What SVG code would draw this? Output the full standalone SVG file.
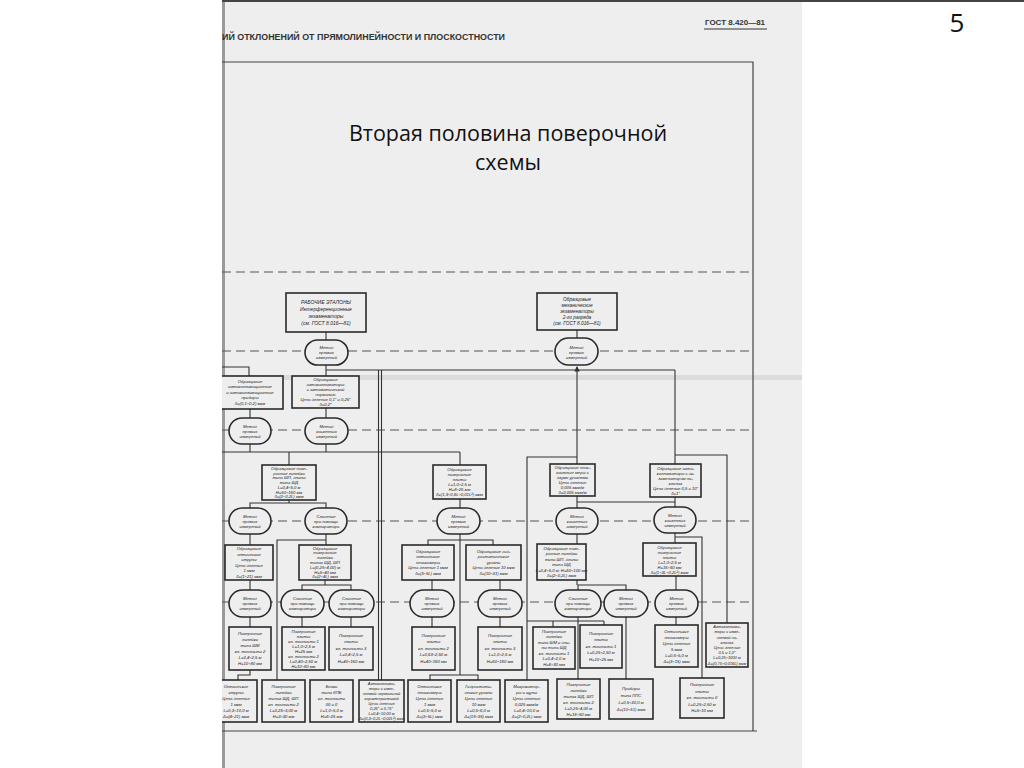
<svg xmlns="http://www.w3.org/2000/svg" width="1024" height="768" viewBox="0 0 1024 768">
<defs>
<style>
.pg{fill:#eeeeee}
.bx{fill:#eeeeee;stroke:#2a2a2a;stroke-width:1.6}
.ov{fill:#eeeeee;stroke:#2a2a2a;stroke-width:1.6}
.t{font-family:"Liberation Sans",Arial,sans-serif;font-style:italic;font-size:4.2px;fill:#222;text-anchor:middle}
.c{fill:none;stroke:#333;stroke-width:1.1}
.d{fill:none;stroke:#555;stroke-width:1.1;stroke-dasharray:9 5}
.fr{fill:none;stroke:#444;stroke-width:1.2}
</style>
<clipPath id="pageclip"><rect x="222" y="0" width="580" height="768"/></clipPath>
<marker id="ar" viewBox="0 0 6 6" refX="5" refY="3" markerWidth="5" markerHeight="5" orient="auto"><path d="M0,0 L6,3 L0,6 z" fill="#333"/></marker>
</defs>
<rect width="1024" height="768" fill="#ffffff"/>
<g id="page">
<rect class="pg" x="222" y="0" width="580" height="768"/>
<rect x="222" y="0" width="3" height="768" fill="#9a9a9a"/>
<rect x="222" y="375" width="580" height="5" fill="#cfcfcf" opacity="0.6"/>
<line x1="222" y1="1" x2="1024" y2="1" stroke="#444" stroke-width="2"/>
<text x="222" y="40" font-family="Liberation Sans Narrow,Liberation Sans,sans-serif" font-weight="bold" font-size="8.5" fill="#333" textLength="283" lengthAdjust="spacingAndGlyphs">ИЙ ОТКЛОНЕНИЙ ОТ ПРЯМОЛИНЕЙНОСТИ И ПЛОСКОСТНОСТИ</text>
<text x="705" y="25" font-family="Liberation Sans,sans-serif" font-weight="bold" font-size="7.5" fill="#333" textLength="60" lengthAdjust="spacingAndGlyphs">ГОСТ 8.420—81</text>
<line x1="704" y1="29" x2="767" y2="29" stroke="#333" stroke-width="1.2"/>
<polyline class="fr" points="222,62 753,62 753,731"/>
<line class="fr" x1="222" y1="731" x2="757" y2="731"/>
<text x="508" y="141" font-family="Open Sans,Liberation Sans,sans-serif" font-size="21.5" fill="#111" text-anchor="middle">Вторая половина поверочной</text>
<text x="508" y="170" font-family="Open Sans,Liberation Sans,sans-serif" font-size="21.5" fill="#111" text-anchor="middle">схемы</text>
<line class="d" x1="222" y1="272" x2="753" y2="272"/>
<line class="d" x1="222" y1="351" x2="753" y2="351"/>
<line class="d" x1="222" y1="430" x2="753" y2="430"/>
<line class="d" x1="222" y1="521" x2="753" y2="521"/>
<line class="d" x1="222" y1="602" x2="753" y2="602"/>
</g>
<text x="957" y="32" font-family="Open Sans,Liberation Sans,sans-serif" font-size="26" fill="#111" text-anchor="middle">5</text>
<g id="connectors" clip-path="url(#pageclip)">
<line class="c" x1="326" y1="332" x2="326" y2="340"/>
<line class="c" x1="577" y1="330" x2="577" y2="338"/>
<line class="c" x1="326" y1="365" x2="326" y2="376"/>
<line class="c" x1="326" y1="370" x2="675" y2="370"/>
<polyline class="c" points="222,367 249,367 249,376"/>
<line class="c" x1="378.5" y1="370" x2="378.5" y2="680"/>
<line class="c" x1="381.5" y1="370" x2="381.5" y2="680"/>
<line class="c" x1="577" y1="370" x2="577" y2="367" marker-end="url(#ar)"/>
<line class="c" x1="577" y1="370" x2="577" y2="464"/>
<polyline class="c" points="577,457 527,457 527,680"/>
<line class="c" x1="675" y1="370" x2="675" y2="464"/>
<polyline class="c" points="675,455 727,455 727,623"/>
<line class="c" x1="250" y1="409" x2="250" y2="418"/>
<line class="c" x1="326" y1="408" x2="326" y2="418"/>
<line class="c" x1="250" y1="444" x2="250" y2="452"/>
<line class="c" x1="326" y1="444" x2="326" y2="452"/>
<line class="c" x1="222" y1="452" x2="460" y2="452"/>
<line class="c" x1="289" y1="452" x2="289" y2="465"/>
<line class="c" x1="460" y1="452" x2="460" y2="465"/>
<polyline class="c" points="289,500 289,503"/>
<polyline class="c" points="250,508 250,503 326,503 326,508"/>
<line class="c" x1="250" y1="534" x2="250" y2="545"/>
<line class="c" x1="326" y1="534" x2="326" y2="545"/>
<polyline class="c" points="326,540 277,540 277,680"/>
<line class="c" x1="325" y1="580" x2="325" y2="585"/>
<polyline class="c" points="302,590 302,585 351,585 351,590"/>
<line class="c" x1="250" y1="580" x2="250" y2="590"/>
<line class="c" x1="250" y1="617" x2="250" y2="627"/>
<line class="c" x1="302" y1="617" x2="302" y2="627"/>
<line class="c" x1="351" y1="617" x2="351" y2="627"/>
<polyline class="c" points="250,670 250,675 238,675 238,680"/>
<line class="c" x1="460" y1="499" x2="460" y2="508"/>
<line class="c" x1="460" y1="534" x2="460" y2="675"/>
<polyline class="c" points="428,545 428,540 493,540 493,545"/>
<line class="c" x1="432" y1="580" x2="432" y2="590"/>
<line class="c" x1="500" y1="580" x2="500" y2="590"/>
<line class="c" x1="432" y1="617" x2="432" y2="627"/>
<line class="c" x1="500" y1="617" x2="500" y2="627"/>
<polyline class="c" points="430,680 430,675 478,675 478,680"/>
<line class="c" x1="577" y1="496" x2="577" y2="508"/>
<line class="c" x1="675" y1="497" x2="675" y2="507"/>
<line class="c" x1="577" y1="502" x2="675" y2="502"/>
<line class="c" x1="577" y1="534" x2="577" y2="544"/>
<line class="c" x1="577" y1="580" x2="577" y2="585"/>
<polyline class="c" points="578,590 578,585 626,585 626,590"/>
<line class="c" x1="578" y1="617" x2="578" y2="679"/>
<polyline class="c" points="527,621 604,621"/>
<line class="c" x1="553" y1="621" x2="553" y2="627"/>
<line class="c" x1="604" y1="621" x2="604" y2="625"/>
<line class="c" x1="626" y1="617" x2="626" y2="679"/>
<line class="c" x1="675" y1="533" x2="675" y2="543"/>
<polyline class="c" points="675,537 702,537 702,678"/>
<line class="c" x1="676" y1="576" x2="676" y2="590"/>
<line class="c" x1="676" y1="617" x2="676" y2="625"/>
</g>
<g id="T1"><rect class="bx" x="286" y="293" width="80" height="39"/><text class="t" x="326" y="303.5" style="font-size:5px"><tspan x="326">РАБОЧИЕ  ЭТАЛОНЫ</tspan><tspan x="326" dy="7">Интерференционные</tspan><tspan x="326" dy="7">экзаменаторы</tspan><tspan x="326" dy="7">(см. ГОСТ 8.016—81)</tspan></text></g>
<g id="T2"><rect class="bx" x="537" y="293" width="80" height="37"/><text class="t" x="577" y="301" style="font-size:4.8px"><tspan x="577">Образцовые</tspan><tspan x="577" dy="6">механические</tspan><tspan x="577" dy="6">экзаменаторы</tspan><tspan x="577" dy="6">2-го разряда</tspan><tspan x="577" dy="6">(см. ГОСТ 8.016—81)</tspan></text></g>
<g id="O1"><rect class="ov" x="305" y="340" width="43" height="25" rx="12.5"/><text class="t" x="326.5" y="349"><tspan x="326.5">Метод</tspan><tspan x="326.5" dy="5">прямых</tspan><tspan x="326.5" dy="5">измерений</tspan></text></g>
<g id="O2"><rect class="ov" x="555" y="338" width="43" height="27" rx="13.5"/><text class="t" x="576.5" y="349"><tspan x="576.5">Метод</tspan><tspan x="576.5" dy="5">прямых</tspan><tspan x="576.5" dy="5">измерений</tspan></text></g>
<g id="B1" clip-path="url(#pageclip)"><rect class="bx" x="212" y="376" width="71" height="33"/><text class="t" x="250" y="382.5"><tspan x="250">Образцовые</tspan><tspan x="250" dy="5.5">автоколлимационные</tspan><tspan x="250" dy="5.5">и автоколлимационные</tspan><tspan x="250" dy="5.5">приборы</tspan><tspan x="250" dy="5.5">δ=(0,1÷0,2) мкм</tspan></text></g>
<g id="B2"><rect class="bx" x="292" y="376" width="67" height="32"/><text class="t" x="325.5" y="381"><tspan x="325.5">Образцовые</tspan><tspan x="325.5" dy="5">автоколлиматоры</tspan><tspan x="325.5" dy="5">с автоматической</tspan><tspan x="325.5" dy="5">нормалью</tspan><tspan x="325.5" dy="5">Цена деления 0,1″ и 0,25″</tspan><tspan x="325.5" dy="5">δ=0,2″</tspan></text></g>
<g id="O3"><rect class="ov" x="229" y="418" width="42" height="26" rx="13"/><text class="t" x="250" y="427.5"><tspan x="250">Метод</tspan><tspan x="250" dy="5">прямых</tspan><tspan x="250" dy="5">измерений</tspan></text></g>
<g id="O4"><rect class="ov" x="305" y="418" width="43" height="26" rx="13"/><text class="t" x="326.5" y="427.5"><tspan x="326.5">Метод</tspan><tspan x="326.5" dy="5">косвенных</tspan><tspan x="326.5" dy="5">измерений</tspan></text></g>
<g id="C1"><rect class="bx" x="262" y="465" width="54" height="35"/><text class="t" x="289" y="470"><tspan x="289">Образцовые пове-</tspan><tspan x="289" dy="4.7">рочные линейки</tspan><tspan x="289" dy="4.7">типа ШП, длины</tspan><tspan x="289" dy="4.7">типа ШД</tspan><tspan x="289" dy="4.7">L=0,4÷5,0 м</tspan><tspan x="289" dy="4.7">H=50÷160 мм</tspan><tspan x="289" dy="4.7">δ=(2÷0,2L) мкм</tspan></text></g>
<g id="C2"><rect class="bx" x="433" y="465" width="53" height="34"/><text class="t" x="459.5" y="471"><tspan x="459.5">Образцовые</tspan><tspan x="459.5" dy="5">поверочные</tspan><tspan x="459.5" dy="5">плиты</tspan><tspan x="459.5" dy="5">L=1,0÷2,5 м</tspan><tspan x="459.5" dy="5">H=8÷25 мм</tspan><tspan x="459.5" dy="5">δ=(1,9÷0,8L÷0,01L²) мкм</tspan></text></g>
<g id="C3"><rect class="bx" x="550" y="464" width="45" height="32"/><text class="t" x="572.5" y="469"><tspan x="572.5">Образцовые плос-</tspan><tspan x="572.5" dy="5">костные меры с</tspan><tspan x="572.5" dy="5">двумя уровнями</tspan><tspan x="572.5" dy="5">Цена деления</tspan><tspan x="572.5" dy="5">0,005 мкм/м</tspan><tspan x="572.5" dy="5">δ=0,005 мкм/м</tspan></text></g>
<g id="C4"><rect class="bx" x="650" y="464" width="51" height="33"/><text class="t" x="675.5" y="469.5"><tspan x="675.5">Образцовые авто-</tspan><tspan x="675.5" dy="5">коллиматоры с эк-</tspan><tspan x="675.5" dy="5">заменатором на-</tspan><tspan x="675.5" dy="5">клонов</tspan><tspan x="675.5" dy="5">Цена деления 0,5 и 10″</tspan><tspan x="675.5" dy="5">δ=1″</tspan></text></g>
<g id="D1"><rect class="ov" x="229" y="508" width="42" height="26" rx="13"/><text class="t" x="250" y="517.5"><tspan x="250">Метод</tspan><tspan x="250" dy="5">прямых</tspan><tspan x="250" dy="5">измерений</tspan></text></g>
<g id="D2"><rect class="ov" x="305" y="508" width="42" height="26" rx="13"/><text class="t" x="326" y="517.5"><tspan x="326">Сличение</tspan><tspan x="326" dy="5">при помощи</tspan><tspan x="326" dy="5">компаратора</tspan></text></g>
<g id="D3"><rect class="ov" x="437" y="508" width="43" height="26" rx="13"/><text class="t" x="458.5" y="517.5"><tspan x="458.5">Метод</tspan><tspan x="458.5" dy="5">прямых</tspan><tspan x="458.5" dy="5">измерений</tspan></text></g>
<g id="D4"><rect class="ov" x="556" y="508" width="42" height="26" rx="13"/><text class="t" x="577" y="517.5"><tspan x="577">Метод</tspan><tspan x="577" dy="5">косвенных</tspan><tspan x="577" dy="5">измерений</tspan></text></g>
<g id="D5"><rect class="ov" x="654" y="507" width="42" height="26" rx="13"/><text class="t" x="675" y="516.5"><tspan x="675">Метод</tspan><tspan x="675" dy="5">косвенных</tspan><tspan x="675" dy="5">измерений</tspan></text></g>
<g id="E1"><rect class="bx" x="225" y="545" width="48" height="35"/><text class="t" x="249" y="550"><tspan x="249">Образцовые</tspan><tspan x="249" dy="5.5">оптические</tspan><tspan x="249" dy="5.5">струны</tspan><tspan x="249" dy="5.5">Цена деления</tspan><tspan x="249" dy="5.5">1 мкм</tspan><tspan x="249" dy="5.5">δ=(1÷21) мкм</tspan></text></g>
<g id="E2"><rect class="bx" x="299" y="545" width="52" height="35"/><text class="t" x="325" y="549.5"><tspan x="325">Образцовые</tspan><tspan x="325" dy="4.8">поверочные</tspan><tspan x="325" dy="4.8">линейки</tspan><tspan x="325" dy="4.8">типов ШД, ШП</tspan><tspan x="325" dy="4.8">L=(0,25÷4,00) м</tspan><tspan x="325" dy="4.8">H=5÷40 мм</tspan><tspan x="325" dy="4.8">δ=(2÷4L) мкм</tspan></text></g>
<g id="E3"><rect class="bx" x="402" y="545" width="52" height="35"/><text class="t" x="428" y="552.8"><tspan x="428">Образцовые</tspan><tspan x="428" dy="5.5">оптические</tspan><tspan x="428" dy="5.5">плоскомеры</tspan><tspan x="428" dy="5.5">Цена деления 1 мкм</tspan><tspan x="428" dy="5.5">δ=(3÷5L) мкм</tspan></text></g>
<g id="E4"><rect class="bx" x="466" y="545" width="55" height="35"/><text class="t" x="493.5" y="552.8"><tspan x="493.5">Образцовые гид-</tspan><tspan x="493.5" dy="5.5">ростатические</tspan><tspan x="493.5" dy="5.5">уровни</tspan><tspan x="493.5" dy="5.5">Цена деления 10 мкм</tspan><tspan x="493.5" dy="5.5">δ=(10÷31) мкм</tspan></text></g>
<g id="E5"><rect class="bx" x="537" y="544" width="49" height="36"/><text class="t" x="561.5" y="549.5"><tspan x="561.5">Образцовые пове-</tspan><tspan x="561.5" dy="5.5">рочные линейки</tspan><tspan x="561.5" dy="5.5">типа ШП, длины</tspan><tspan x="561.5" dy="5.5">типа ШД</tspan><tspan x="561.5" dy="5.5">L=0,4÷5,0 м; H=50÷100 мм</tspan><tspan x="561.5" dy="5.5">δ=(2÷0,2L) мкм</tspan></text></g>
<g id="E6"><rect class="bx" x="643" y="543" width="53" height="33"/><text class="t" x="669.5" y="548.5"><tspan x="669.5">Образцовые</tspan><tspan x="669.5" dy="5">поверочные</tspan><tspan x="669.5" dy="5">плиты</tspan><tspan x="669.5" dy="5">L=1,0÷2,5 м</tspan><tspan x="669.5" dy="5">H=16÷60 мм</tspan><tspan x="669.5" dy="5">δ=(1÷3L÷0,2L²) мкм</tspan></text></g>
<g id="F1"><rect class="ov" x="229" y="590" width="42" height="27" rx="13.5"/><text class="t" x="250" y="600"><tspan x="250">Метод</tspan><tspan x="250" dy="5">прямых</tspan><tspan x="250" dy="5">измерений</tspan></text></g>
<g id="F2"><rect class="ov" x="281" y="590" width="43" height="27" rx="13.5"/><text class="t" x="302.5" y="600"><tspan x="302.5">Сличение</tspan><tspan x="302.5" dy="5">при помощи</tspan><tspan x="302.5" dy="5">компаратора</tspan></text></g>
<g id="F3"><rect class="ov" x="329" y="590" width="45" height="27" rx="13.5"/><text class="t" x="351.5" y="600"><tspan x="351.5">Сличение</tspan><tspan x="351.5" dy="5">при помощи</tspan><tspan x="351.5" dy="5">компаратора</tspan></text></g>
<g id="F4"><rect class="ov" x="410" y="590" width="44" height="27" rx="13.5"/><text class="t" x="432" y="600"><tspan x="432">Метод</tspan><tspan x="432" dy="5">прямых</tspan><tspan x="432" dy="5">измерений</tspan></text></g>
<g id="F5"><rect class="ov" x="478" y="590" width="44" height="27" rx="13.5"/><text class="t" x="500" y="600"><tspan x="500">Метод</tspan><tspan x="500" dy="5">прямых</tspan><tspan x="500" dy="5">измерений</tspan></text></g>
<g id="F6"><rect class="ov" x="555" y="590" width="46" height="27" rx="13.5"/><text class="t" x="578" y="600"><tspan x="578">Сличение</tspan><tspan x="578" dy="5">при помощи</tspan><tspan x="578" dy="5">компаратора</tspan></text></g>
<g id="F7"><rect class="ov" x="604" y="590" width="44" height="27" rx="13.5"/><text class="t" x="626" y="600"><tspan x="626">Метод</tspan><tspan x="626" dy="5">прямых</tspan><tspan x="626" dy="5">измерений</tspan></text></g>
<g id="F8"><rect class="ov" x="655" y="590" width="43" height="27" rx="13.5"/><text class="t" x="676.5" y="600"><tspan x="676.5">Метод</tspan><tspan x="676.5" dy="5">прямых</tspan><tspan x="676.5" dy="5">измерений</tspan></text></g>
<g id="G1"><rect class="bx" x="229" y="627" width="42" height="43"/><text class="t" x="250" y="635"><tspan x="250">Поверочные</tspan><tspan x="250" dy="6">линейки</tspan><tspan x="250" dy="6">типа ШМ</tspan><tspan x="250" dy="6">кл. точности 2</tspan><tspan x="250" dy="6">L=0,4÷2,5 м</tspan><tspan x="250" dy="6">H=10÷80 мм</tspan></text></g>
<g id="G2"><rect class="bx" x="282" y="627" width="43" height="43"/><text class="t" x="303.5" y="632.5"><tspan x="303.5">Поверочные</tspan><tspan x="303.5" dy="5">плиты</tspan><tspan x="303.5" dy="5">кл. точности 1</tspan><tspan x="303.5" dy="5">L=1,0÷2,5 м</tspan><tspan x="303.5" dy="5">H=25 мм</tspan><tspan x="303.5" dy="5">кл. точности 2</tspan><tspan x="303.5" dy="5">L=0,40÷2,50 м</tspan><tspan x="303.5" dy="5">H=10÷60 мм</tspan></text></g>
<g id="G3"><rect class="bx" x="329" y="627" width="44" height="43"/><text class="t" x="351" y="636.8"><tspan x="351">Поверочные</tspan><tspan x="351" dy="6.5">плиты</tspan><tspan x="351" dy="6.5">кл. точности 3</tspan><tspan x="351" dy="6.5">L=0,4÷2,5 м</tspan><tspan x="351" dy="6.5">H=40÷160 мм</tspan></text></g>
<g id="G4"><rect class="bx" x="412" y="627" width="43" height="43"/><text class="t" x="433.5" y="636.8"><tspan x="433.5">Поверочные</tspan><tspan x="433.5" dy="6.5">плиты</tspan><tspan x="433.5" dy="6.5">кл. точности 2</tspan><tspan x="433.5" dy="6.5">L=0,63÷2,50 м</tspan><tspan x="433.5" dy="6.5">H=40÷160 мм</tspan></text></g>
<g id="G5"><rect class="bx" x="478" y="627" width="44" height="43"/><text class="t" x="500" y="636.8"><tspan x="500">Поверочные</tspan><tspan x="500" dy="6.5">плиты</tspan><tspan x="500" dy="6.5">кл. точности 3</tspan><tspan x="500" dy="6.5">L=1,0÷2,5 м</tspan><tspan x="500" dy="6.5">H=60÷180 мм</tspan></text></g>
<g id="G6"><rect class="bx" x="533" y="627" width="42" height="42"/><text class="t" x="554" y="632.8"><tspan x="554">Поверочные</tspan><tspan x="554" dy="5.5">линейки</tspan><tspan x="554" dy="5.5">типа ШМ и дли-</tspan><tspan x="554" dy="5.5">ны типа ШД</tspan><tspan x="554" dy="5.5">кл. точности 1</tspan><tspan x="554" dy="5.5">L=0,4÷2,0 м</tspan><tspan x="554" dy="5.5">H=6÷30 мм</tspan></text></g>
<g id="G7"><rect class="bx" x="580" y="625" width="42" height="43"/><text class="t" x="601" y="634.8"><tspan x="601">Поверочные</tspan><tspan x="601" dy="6.5">плиты</tspan><tspan x="601" dy="6.5">кл. точности 1</tspan><tspan x="601" dy="6.5">L=0,25÷2,50 м</tspan><tspan x="601" dy="6.5">H=10÷25 мм</tspan></text></g>
<g id="G8"><rect class="bx" x="655" y="625" width="43" height="42"/><text class="t" x="676.5" y="632.5"><tspan x="676.5">Оптические</tspan><tspan x="676.5" dy="6">плоскомеры</tspan><tspan x="676.5" dy="6">Цена деления</tspan><tspan x="676.5" dy="6">5 мкм</tspan><tspan x="676.5" dy="6">L=0,5÷5,0 м</tspan><tspan x="676.5" dy="6">Δ=(3÷15) мкм</tspan></text></g>
<g id="G9"><rect class="bx" x="706" y="623" width="42" height="44"/><text class="t" x="727" y="628.2" style="font-size:4px"><tspan x="727">Автоколлима-</tspan><tspan x="727" dy="5.2">торы с изме-</tspan><tspan x="727" dy="5.2">няемой на-</tspan><tspan x="727" dy="5.2">клонов</tspan><tspan x="727" dy="5.2">Цена деления</tspan><tspan x="727" dy="5.2">0,5 и 1,0″</tspan><tspan x="727" dy="5.2">L=0,25÷1000 м</tspan><tspan x="727" dy="5.2">Δ=(0,75÷0,016L) мкм</tspan></text></g>
<g id="H1" clip-path="url(#pageclip)"><rect class="bx" x="212" y="680" width="45" height="42"/><text class="t" x="236" y="687.5"><tspan x="236">Оптические</tspan><tspan x="236" dy="6">струны</tspan><tspan x="236" dy="6">Цена деления</tspan><tspan x="236" dy="6">1 мкм</tspan><tspan x="236" dy="6">L=0,3÷10,0 м</tspan><tspan x="236" dy="6">Δ=(4÷21) мкм</tspan></text></g>
<g id="H2"><rect class="bx" x="262" y="680" width="43" height="42"/><text class="t" x="283.5" y="687.5"><tspan x="283.5">Поверочные</tspan><tspan x="283.5" dy="6">линейки</tspan><tspan x="283.5" dy="6">типов ШД, ШП</tspan><tspan x="283.5" dy="6">кл. точности 2</tspan><tspan x="283.5" dy="6">L=0,25÷3,00 м</tspan><tspan x="283.5" dy="6">H=3÷30 мм</tspan></text></g>
<g id="H3"><rect class="bx" x="310" y="680" width="43" height="42"/><text class="t" x="331.5" y="687.5"><tspan x="331.5">Блоки</tspan><tspan x="331.5" dy="6">типа КПБ</tspan><tspan x="331.5" dy="6">кл. точности</tspan><tspan x="331.5" dy="6">00 и 0</tspan><tspan x="331.5" dy="6">L=1,0÷5,0 м</tspan><tspan x="331.5" dy="6">H=6÷25 мм</tspan></text></g>
<g id="H4"><rect class="bx" x="359" y="680" width="45" height="42"/><text class="t" x="381.5" y="685" style="font-size:4px"><tspan x="381.5">Автоколлима-</tspan><tspan x="381.5" dy="5">торы с изме-</tspan><tspan x="381.5" dy="5">няемой нормальной</tspan><tspan x="381.5" dy="5">характеристикой</tspan><tspan x="381.5" dy="5">Цена деления</tspan><tspan x="381.5" dy="5">0,25″ и 0,75″</tspan><tspan x="381.5" dy="5">L=0,4÷10,00 м</tspan><tspan x="381.5" dy="5">Δ=(0,3÷0,2L÷0,02L²) мкм</tspan></text></g>
<g id="H5"><rect class="bx" x="408" y="680" width="43" height="42"/><text class="t" x="429.5" y="687.5"><tspan x="429.5">Оптические</tspan><tspan x="429.5" dy="6">плоскомеры</tspan><tspan x="429.5" dy="6">Цена деления</tspan><tspan x="429.5" dy="6">1 мкм</tspan><tspan x="429.5" dy="6">L=0,5÷5,0 м</tspan><tspan x="429.5" dy="6">Δ=(3÷5L) мкм</tspan></text></g>
<g id="H6"><rect class="bx" x="457" y="680" width="43" height="42"/><text class="t" x="478.5" y="687.5"><tspan x="478.5">Гидростати-</tspan><tspan x="478.5" dy="6">ческие уровни</tspan><tspan x="478.5" dy="6">Цена деления</tspan><tspan x="478.5" dy="6">10 мкм</tspan><tspan x="478.5" dy="6">L=0,5÷6,0 м</tspan><tspan x="478.5" dy="6">Δ=(18÷35) мкм</tspan></text></g>
<g id="H7"><rect class="bx" x="505" y="680" width="43" height="42"/><text class="t" x="526.5" y="687.5"><tspan x="526.5">Микрокатор-</tspan><tspan x="526.5" dy="6">ры и щупы</tspan><tspan x="526.5" dy="6">Цена деления</tspan><tspan x="526.5" dy="6">0,025 мкм/м</tspan><tspan x="526.5" dy="6">L=0,4÷10,0 м</tspan><tspan x="526.5" dy="6">Δ=(2÷0,2L) мкм</tspan></text></g>
<g id="H8"><rect class="bx" x="557" y="679" width="43" height="40"/><text class="t" x="578.5" y="685.5"><tspan x="578.5">Поверочные</tspan><tspan x="578.5" dy="6">линейки</tspan><tspan x="578.5" dy="6">типов ШД, ШП</tspan><tspan x="578.5" dy="6">кл. точности 2</tspan><tspan x="578.5" dy="6">L=0,25÷4,00 м</tspan><tspan x="578.5" dy="6">H=18÷50 мм</tspan></text></g>
<g id="H9"><rect class="bx" x="609" y="679" width="44" height="40"/><text class="t" x="631" y="690"><tspan x="631">Приборы</tspan><tspan x="631" dy="7">типа ППС</tspan><tspan x="631" dy="7">L=0,5÷30,0 м</tspan><tspan x="631" dy="7">Δ=(10÷51) мкм</tspan></text></g>
<g id="H10"><rect class="bx" x="680" y="678" width="44" height="40"/><text class="t" x="702" y="686.3"><tspan x="702">Поверочные</tspan><tspan x="702" dy="6.5">плиты</tspan><tspan x="702" dy="6.5">кл. точности 0</tspan><tspan x="702" dy="6.5">L=0,25÷2,50 м</tspan><tspan x="702" dy="6.5">H=5÷10 мм</tspan></text></g>
</svg>
